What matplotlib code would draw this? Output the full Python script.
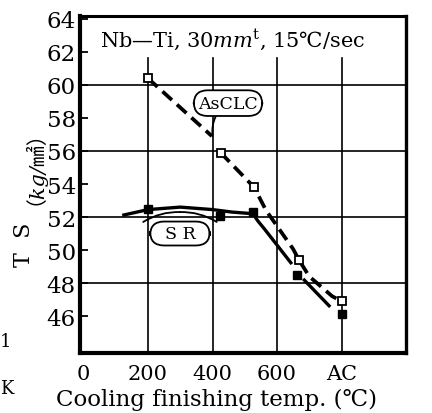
import numpy as np
import matplotlib.pyplot as plt

plt.rcParams['font.family'] = ['DejaVu Serif', 'DejaVu Sans', 'Noto Sans CJK JP']
plt.rcParams['mathtext.fontset'] = 'dejavuserif'

# measured points
temp_asclc = [200, 425, 529, 668, 800]
ts_asclc = [60.4, 55.9, 53.8, 49.4, 46.9]
temp_sr = [200, 424, 525, 662, 800]
ts_sr = [52.5, 52.05, 52.3, 48.5, 46.1]

# hand drawn trend lines (nan = gap in the line)
fit_asclc_x = [200, 398, np.nan, 425, 529, 566, 650, 668, 700, 771, 800]
fit_asclc_y = [60.4, 56.9, np.nan, 55.9, 53.8, 52.4, 50.06, 49.4, 48.4, 47.2, 46.9]
fit_sr_x = [120, 200, 300, 400, 460, 525, 541, 560, 600, 646, np.nan, 681, 765]
fit_sr_y = [52.1, 52.45, 52.6, 52.45, 52.3, 52.2, 51.75, 51.3, 50.3, 49.15, np.nan, 48.25, 46.55]

xticks = [0, 200, 400, 600, 800]
xticklabels = ['0', '200', '400', '600', 'AC']
yticks = list(range(46, 65, 2))

fig = plt.figure(figsize=(4.32, 4.14), dpi=100)
ax = fig.add_axes([80/432, 60/414, 326/432, 337/414])
ax.set_xlim(-11, 1000)
ax.set_ylim(43.76, 64.18)

# grid
for x in xticks[1:]:
    ax.axvline(x, ymax=0.874, color='black', lw=1.2, zorder=1)
for y in [48, 52, 56, 60]:
    ax.axhline(y, color='black', lw=1.2, zorder=1)

ax.plot(fit_sr_x, fit_sr_y, color='black', lw=2.4, solid_capstyle='butt', zorder=2)
ax.plot(fit_asclc_x, fit_asclc_y, color='black', lw=2.7, dashes=(3.4, 1.8), zorder=2)
ax.plot(temp_asclc, ts_asclc, 's', ms=6, mfc='white', mec='black', mew=1.3, zorder=3)
ax.plot(temp_sr, ts_sr, 's', ms=6, mfc='black', mec='black', zorder=3)

ax.text(51, 62.8, r'Nb—Ti, 30$\mathbf{\mathit{mm}}^{\mathrm{t}}$, 15℃/sec',
        fontsize=15, va='center', ha='left')

ax.annotate('AsCLC', xy=(400, 56.9), xytext=(448, 58.9), fontsize=12.5,
            ha='center', va='center',
            bbox=dict(boxstyle='round,pad=0.25,rounding_size=0.8', fc='white', ec='black', lw=1.3),
            arrowprops=dict(arrowstyle='-', lw=1.3, color='black',
                            connectionstyle='arc3,rad=0.3', shrinkA=0, shrinkB=0))

ax.text(299, 51.0, '  S R  ', fontsize=12.5, ha='center', va='center',
        bbox=dict(boxstyle='round,pad=0.2,rounding_size=0.8', fc='white', ec='black', lw=1.3))
ax.annotate('', xy=(299, 52.3), xytext=(185, 51.7),
            arrowprops=dict(arrowstyle='-', lw=1.3, connectionstyle='arc3,rad=-0.15',
                            shrinkA=0, shrinkB=0))
ax.annotate('', xy=(299, 52.3), xytext=(413, 51.7),
            arrowprops=dict(arrowstyle='-', lw=1.3, connectionstyle='arc3,rad=0.15',
                            shrinkA=0, shrinkB=0))

ax.set_xticks(xticks)
ax.set_xticklabels(xticklabels, fontsize=15)
ax.set_yticks(yticks)
ax.set_yticklabels([str(v) for v in yticks], fontsize=16.5)
ax.tick_params(axis='x', length=0, pad=8)
ax.tick_params(axis='y', direction='in', length=6, width=1.3, pad=3)

for side, w in [('left', 3), ('bottom', 3), ('top', 2.2), ('right', 2.4)]:
    ax.spines[side].set_linewidth(w)

fig.text(0.5, 1 - 400/414, 'Cooling finishing temp. (℃)', fontsize=16.5,
         ha='center', va='center')
fig.text(24/432, 1 - 245/414, 'T  S', fontsize=16, rotation=90, ha='center', va='center')
fig.text(23/432, 1 - 157/414, '（kg/㎟）', fontsize=15, rotation=90, ha='center',
         va='center', style='italic')
fig.text(0.0, 1 - 342/414, '1', fontsize=13, ha='left', va='center')
fig.text(0.0, 1 - 389/414, 'K', fontsize=13, ha='left', va='center')

fig.savefig('out.png', dpi=100)
